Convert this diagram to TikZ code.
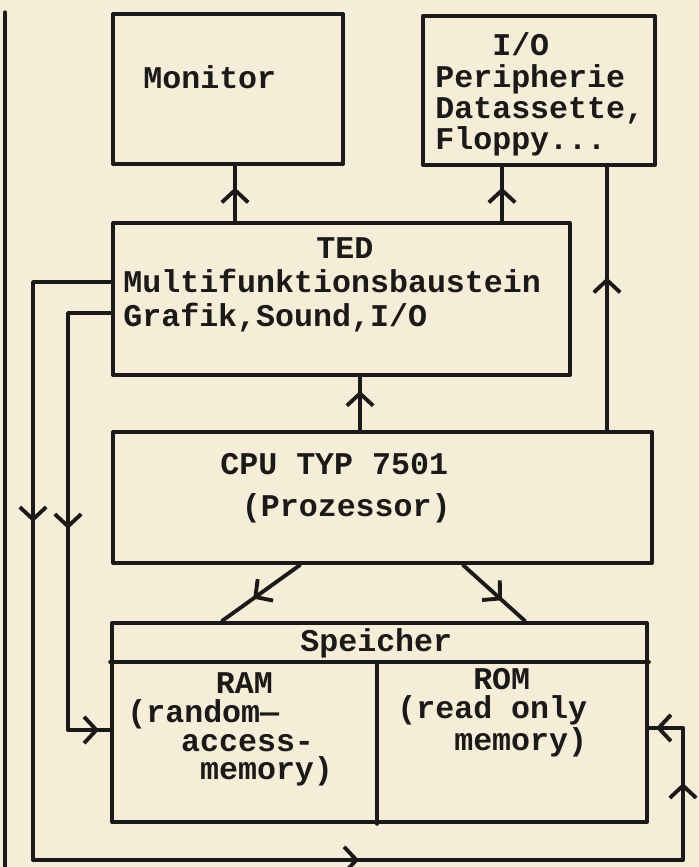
\documentclass[tikz,border=0pt]{standalone}
\usepackage{fontspec}
\newfontfamily\typefont{Liberation Mono}
\usetikzlibrary{arrows.meta,decorations.markings}
\definecolor{papier}{RGB}{245,237,216}
\definecolor{tinte}{RGB}{28,26,24}
\newcommand{\schrift}[1]{\typefont\bfseries\fontsize{18}{#1}\selectfont}

\begin{document}
\begin{tikzpicture}[line cap=round,line join=round,
  every node/.style={inner sep=0pt,text=tinte,font=\schrift{20}},
  box/.style={draw=tinte,line width=2.3pt,rectangle},
  conn/.style={draw=tinte,line width=2.2pt},
  pfeil/.style={postaction={decorate,decoration={markings,
      mark=at position #1 with {\arrow{Straight Barb[length=7pt,width=15pt]}}}}}]
  % 纸面
  \useasboundingbox (0,0) rectangle (13.98,17.34);
  \fill[papier] (0,0) rectangle (13.98,17.34);
  % 方框
  \node[box,minimum width=4.60cm,minimum height=3.00cm] (mon) at (4.56,15.56) {};
  \node[box,minimum width=4.64cm,minimum height=2.98cm] (io) at (10.78,15.53) {};
  \node[box,minimum width=9.14cm,minimum height=3.04cm] (ted) at (6.83,11.36) {};
  \node[box,minimum width=10.78cm,minimum height=2.62cm] (cpu) at (7.65,7.39) {};
  \node[box,minimum width=10.70cm,minimum height=3.98cm] (mem) at (7.59,2.89) {};
  % 存储器内分隔线
  \draw[conn,line width=2pt] (mem.west |- 0,4.10) -- (mem.east |- 0,4.10);
  \draw[conn,line width=2pt] (7.54,4.10) -- (7.54,0 |- mem.south);
  % 文字（基线取末行）
  \node[anchor=base west] (montext) at (2.86,15.56) {Monitor};
  \node[anchor=base west,align=left,font=\schrift{17.9}] (iotext) at (8.70,14.34)
    {\hspace*{1.8em}I/O\\Peripherie\\Datassette,\\Floppy...};
  \node[anchor=base west,align=left,font=\schrift{19.6}] (tedtext) at (2.46,10.80)
    {\hspace*{6.1em}TED\\Multifunktionsbaustein\\Grafik,Sound,I/O};
  \node[anchor=base west,align=left,font=\schrift{24.4}] (cputext) at (4.40,7.00)
    {CPU TYP 7501\\\hspace*{0.68em}(Prozessor)};
  \node[anchor=base west] (memtext) at (6.00,4.30) {Speicher};
  \node[anchor=base west,align=left,font=\schrift{16.4}] (ram) at (2.54,1.74)
    {\hspace*{2.8em}RAM\\(random—\\\hspace*{1.7em}access-\\\hspace*{2.3em}memory)};
  \node[anchor=base west,align=left,font=\schrift{16.4}] (rom) at (7.94,2.34)
    {\hspace*{2.4em}ROM\\(read only\\\hspace*{1.8em}memory)};
  % 连接点
  \coordinate (monin) at ([xshift=0.14cm]mon.south);
  \coordinate (ioin) at ([xshift=-0.74cm]io.south);
  \coordinate (iorueck) at ([xshift=1.36cm]io.south);
  \coordinate (tedin) at ([xshift=0.37cm]ted.south);
  \coordinate (cpuaus1) at ([xshift=-1.65cm]cpu.south);
  \coordinate (cpuaus2) at ([xshift=1.61cm]cpu.south);
  \coordinate (ramoben) at ([xshift=-3.15cm]mem.north);
  \coordinate (romoben) at ([xshift=2.91cm]mem.north);
  \coordinate (tedaus1) at ([yshift=0.34cm]ted.west);
  \coordinate (tedaus2) at ([yshift=-0.28cm]ted.west);
  \coordinate (ramin) at ([yshift=-0.15cm]mem.west);
  \coordinate (romin) at ([yshift=-0.11cm]mem.east);
  % 竖向箭头
  \draw[conn,pfeil=0.61] (monin |- ted.north) -- (monin);
  \draw[conn,pfeil=0.62] (ioin |- ted.north) -- (ioin);
  \draw[conn,pfeil=0.58] (iorueck |- cpu.north) -- (iorueck);
  \draw[conn,pfeil=0.74] (tedin |- cpu.north) -- (tedin);
  % CPU 到存储器
  \draw[conn,pfeil=0.60] (cpuaus1) -- (ramoben);
  \draw[conn,pfeil=0.63] (cpuaus2) -- (romoben);
  % 左侧回路
  \draw[conn,pfeil=6.36cm,pfeil=19.64cm,pfeil=27.66cm,pfeil=29.3cm]
    (tedaus1) -- (0.66,0 |- tedaus1) -- (0.66,0.14) -- (13.66,0.14)
    -- (13.66,0 |- romin) -- (romin);
  \draw[conn,pfeil=5.18cm,pfeil=9.82cm]
    (tedaus2) -- (1.36,0 |- tedaus2) -- (1.36,0 |- ramin) -- (ramin);
  % 左边缘线
  \draw[conn,line width=1.8pt] (0.10,17.10) -- (0.10,0);
\end{tikzpicture}
\end{document}
